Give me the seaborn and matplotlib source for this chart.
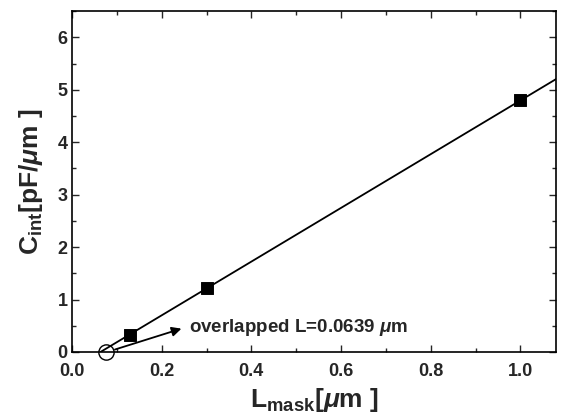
import numpy as np
import matplotlib
matplotlib.use('Agg')
import matplotlib.pyplot as plt
import seaborn as sns
from matplotlib.ticker import MultipleLocator

sns.set_theme(style='ticks')
plt.rcParams['font.family'] = ['Liberation Sans', 'DejaVu Sans']
plt.rcParams['font.weight'] = 'bold'
plt.rcParams['mathtext.fontset'] = 'custom'
plt.rcParams['mathtext.rm'] = 'Liberation Sans:bold'
plt.rcParams['mathtext.bf'] = 'Liberation Sans:bold'
plt.rcParams['mathtext.it'] = 'Liberation Sans:bold:italic'

# measured points
l_mask = [0.13, 0.30, 1.0]
c_int = [0.32, 1.22, 4.80]
# linear fit line
fit_x = [0.0639, 1.09]
fit_y = [0.0, 5.26]
# intercept marker
cross_x = [0.075]
cross_y = [0.0]

fig, ax = plt.subplots(figsize=(5.62, 4.15), dpi=100)
sns.lineplot(x=fit_x, y=fit_y, ax=ax, color='black', linewidth=1.3)
sns.scatterplot(x=l_mask, y=c_int, ax=ax, marker='s', s=70, color='black',
                edgecolor='black', zorder=5)
ax.plot(cross_x, cross_y, marker='o', markersize=11, markerfacecolor='none',
        markeredgecolor='black', markeredgewidth=1, linestyle='none', clip_on=False)
ax.annotate('overlapped L=0.0639 $\\mu$m', xy=(0.25, 0.46), xytext=(0.26, 0.47),
            fontsize=13.5, fontweight='bold', va='center', ha='left')
ax.annotate('', xy=(0.25, 0.46), xytext=(0.09, 0.03),
            arrowprops=dict(arrowstyle='-|>', color='black', lw=1.3, mutation_scale=14))

ax.set_xlim(0, 1.08)
ax.set_ylim(0, 6.5)
ax.set_xticks(np.arange(0, 1.01, 0.2))
ax.set_xticklabels(['%.1f' % v for v in np.arange(0, 1.01, 0.2)])
ax.set_yticks(range(0, 7))
ax.xaxis.set_minor_locator(MultipleLocator(0.1))
ax.yaxis.set_minor_locator(MultipleLocator(0.5))
ax.tick_params(which='both', direction='in', top=True, right=True, labelsize=13, width=1)
ax.tick_params(which='major', length=5)
ax.tick_params(which='minor', length=3)
ax.tick_params(axis='x', pad=8)
ax.tick_params(axis='y', pad=3)
for lbl in ax.get_xticklabels() + ax.get_yticklabels():
    lbl.set_fontweight('bold')
for sp in ax.spines.values():
    sp.set_linewidth(1.2)
    sp.set_color('black')

ax.set_xlabel('L$_{\\mathrm{mask}}$[$\\mu$m ]', fontsize=19, fontweight='bold', labelpad=4)
ax.set_ylabel('C$_{\\mathrm{int}}$[pF/$\\mu$m ]', fontsize=19, fontweight='bold', labelpad=9)

fig.subplots_adjust(left=0.128, right=0.99, top=0.973, bottom=0.152)
fig.savefig('out.png', dpi=100)
